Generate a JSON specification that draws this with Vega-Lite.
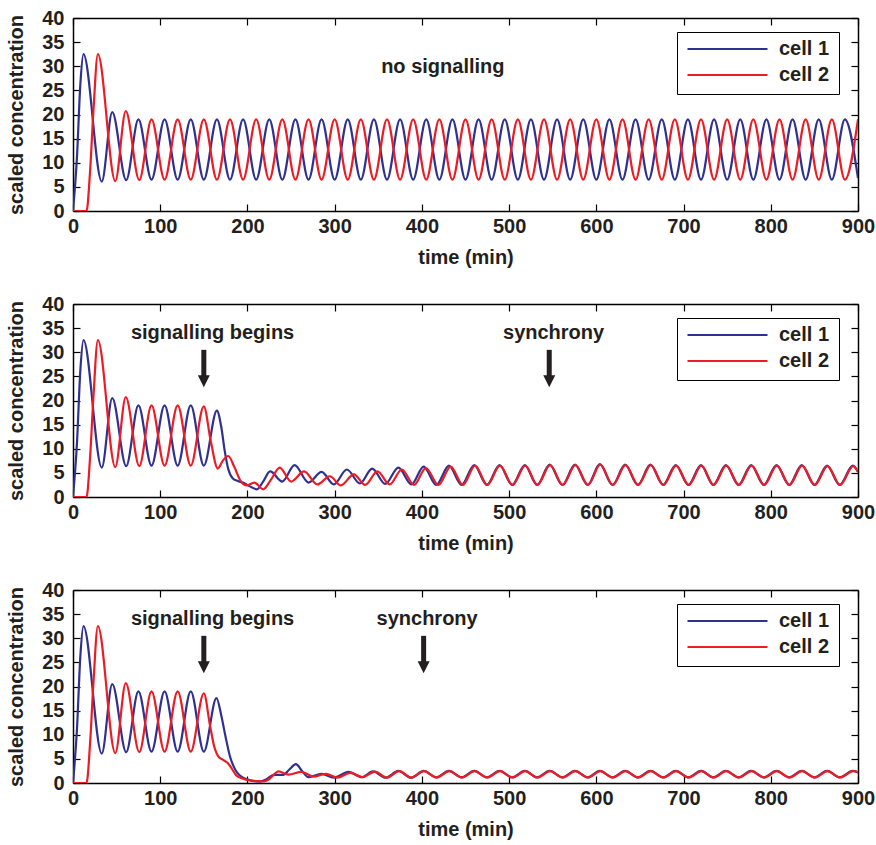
{
"$schema": "https://vega.github.io/schema/vega-lite/v6.json",
"background": "white",
"padding": {"left": 6, "top": 8, "right": 5, "bottom": 5},
"datasets": {
"series": [
{"panel":1,"cell":"cell 1","t":0,"v":0},{"panel":1,"cell":"cell 1","t":4.5,"v":11},{"panel":1,"cell":"cell 1","t":8.5,"v":26.5},{"panel":1,"cell":"cell 1","t":12,"v":32.5},{"panel":1,"cell":"cell 1","t":33,"v":6.1},{"panel":1,"cell":"cell 1","t":45,"v":20.5},{"panel":1,"cell":"cell 1","t":61,"v":6.4},{"panel":1,"cell":"cell 1","t":75,"v":19},{"panel":1,"cell":"cell 1","t":90,"v":6.5},{"panel":1,"cell":"cell 1","t":105,"v":19},{"panel":1,"cell":"cell 1","t":120,"v":6.5},{"panel":1,"cell":"cell 1","t":135,"v":19},{"panel":1,"cell":"cell 1","t":150,"v":6.5},
{"panel":1,"cell":"cell 1","t":165,"v":19},{"panel":1,"cell":"cell 1","t":180,"v":6.5},{"panel":1,"cell":"cell 1","t":195,"v":19},{"panel":1,"cell":"cell 1","t":210,"v":6.5},{"panel":1,"cell":"cell 1","t":225,"v":19},{"panel":1,"cell":"cell 1","t":240,"v":6.5},{"panel":1,"cell":"cell 1","t":255,"v":19},{"panel":1,"cell":"cell 1","t":270,"v":6.5},{"panel":1,"cell":"cell 1","t":285,"v":19},{"panel":1,"cell":"cell 1","t":300,"v":6.5},{"panel":1,"cell":"cell 1","t":315,"v":19},{"panel":1,"cell":"cell 1","t":330,"v":6.5},{"panel":1,"cell":"cell 1","t":345,"v":19},{"panel":1,"cell":"cell 1","t":360,"v":6.5},{"panel":1,"cell":"cell 1","t":375,"v":19},{"panel":1,"cell":"cell 1","t":390,"v":6.5},{"panel":1,"cell":"cell 1","t":405,"v":19},{"panel":1,"cell":"cell 1","t":420,"v":6.5},{"panel":1,"cell":"cell 1","t":435,"v":19},{"panel":1,"cell":"cell 1","t":450,"v":6.5},{"panel":1,"cell":"cell 1","t":465,"v":19},{"panel":1,"cell":"cell 1","t":480,"v":6.5},{"panel":1,"cell":"cell 1","t":495,"v":19},{"panel":1,"cell":"cell 1","t":510,"v":6.5},{"panel":1,"cell":"cell 1","t":525,"v":19},{"panel":1,"cell":"cell 1","t":540,"v":6.5},{"panel":1,"cell":"cell 1","t":555,"v":19},{"panel":1,"cell":"cell 1","t":570,"v":6.5},{"panel":1,"cell":"cell 1","t":585,"v":19},{"panel":1,"cell":"cell 1","t":600,"v":6.5},{"panel":1,"cell":"cell 1","t":615,"v":19},{"panel":1,"cell":"cell 1","t":630,"v":6.5},{"panel":1,"cell":"cell 1","t":645,"v":19},{"panel":1,"cell":"cell 1","t":660,"v":6.5},{"panel":1,"cell":"cell 1","t":675,"v":19},{"panel":1,"cell":"cell 1","t":690,"v":6.5},{"panel":1,"cell":"cell 1","t":705,"v":19},{"panel":1,"cell":"cell 1","t":720,"v":6.5},{"panel":1,"cell":"cell 1","t":735,"v":19},{"panel":1,"cell":"cell 1","t":750,"v":6.5},{"panel":1,"cell":"cell 1","t":765,"v":19},{"panel":1,"cell":"cell 1","t":780,"v":6.5},{"panel":1,"cell":"cell 1","t":795,"v":19},{"panel":1,"cell":"cell 1","t":810,"v":6.5},{"panel":1,"cell":"cell 1","t":825,"v":19},{"panel":1,"cell":"cell 1","t":840,"v":6.5},{"panel":1,"cell":"cell 1","t":855,"v":19},{"panel":1,"cell":"cell 1","t":870,"v":6.5},{"panel":1,"cell":"cell 1","t":885,"v":19},{"panel":1,"cell":"cell 1","t":900,"v":6.8},
{"panel":1,"cell":"cell 2","t":0,"v":0},{"panel":1,"cell":"cell 2","t":15.5,"v":0},{"panel":1,"cell":"cell 2","t":19.5,"v":8},{"panel":1,"cell":"cell 2","t":23.5,"v":21},{"panel":1,"cell":"cell 2","t":28.5,"v":32.5},{"panel":1,"cell":"cell 2","t":48.5,"v":6.2},{"panel":1,"cell":"cell 2","t":60.5,"v":20.7},{"panel":1,"cell":"cell 2","t":76,"v":6.4},{"panel":1,"cell":"cell 2","t":90,"v":19},{"panel":1,"cell":"cell 2","t":105,"v":6.5},{"panel":1,"cell":"cell 2","t":120,"v":19},{"panel":1,"cell":"cell 2","t":135,"v":6.5},
{"panel":1,"cell":"cell 2","t":150,"v":19},{"panel":1,"cell":"cell 2","t":165,"v":6.5},{"panel":1,"cell":"cell 2","t":180,"v":19},{"panel":1,"cell":"cell 2","t":195,"v":6.5},{"panel":1,"cell":"cell 2","t":210,"v":19},{"panel":1,"cell":"cell 2","t":225,"v":6.5},{"panel":1,"cell":"cell 2","t":240,"v":19},{"panel":1,"cell":"cell 2","t":255,"v":6.5},{"panel":1,"cell":"cell 2","t":270,"v":19},{"panel":1,"cell":"cell 2","t":285,"v":6.5},{"panel":1,"cell":"cell 2","t":300,"v":19},{"panel":1,"cell":"cell 2","t":315,"v":6.5},{"panel":1,"cell":"cell 2","t":330,"v":19},{"panel":1,"cell":"cell 2","t":345,"v":6.5},{"panel":1,"cell":"cell 2","t":360,"v":19},{"panel":1,"cell":"cell 2","t":375,"v":6.5},{"panel":1,"cell":"cell 2","t":390,"v":19},{"panel":1,"cell":"cell 2","t":405,"v":6.5},{"panel":1,"cell":"cell 2","t":420,"v":19},{"panel":1,"cell":"cell 2","t":435,"v":6.5},{"panel":1,"cell":"cell 2","t":450,"v":19},{"panel":1,"cell":"cell 2","t":465,"v":6.5},{"panel":1,"cell":"cell 2","t":480,"v":19},{"panel":1,"cell":"cell 2","t":495,"v":6.5},{"panel":1,"cell":"cell 2","t":510,"v":19},{"panel":1,"cell":"cell 2","t":525,"v":6.5},{"panel":1,"cell":"cell 2","t":540,"v":19},{"panel":1,"cell":"cell 2","t":555,"v":6.5},{"panel":1,"cell":"cell 2","t":570,"v":19},{"panel":1,"cell":"cell 2","t":585,"v":6.5},{"panel":1,"cell":"cell 2","t":600,"v":19},{"panel":1,"cell":"cell 2","t":615,"v":6.5},{"panel":1,"cell":"cell 2","t":630,"v":19},{"panel":1,"cell":"cell 2","t":645,"v":6.5},{"panel":1,"cell":"cell 2","t":660,"v":19},{"panel":1,"cell":"cell 2","t":675,"v":6.5},{"panel":1,"cell":"cell 2","t":690,"v":19},{"panel":1,"cell":"cell 2","t":705,"v":6.5},{"panel":1,"cell":"cell 2","t":720,"v":19},{"panel":1,"cell":"cell 2","t":735,"v":6.5},{"panel":1,"cell":"cell 2","t":750,"v":19},{"panel":1,"cell":"cell 2","t":765,"v":6.5},{"panel":1,"cell":"cell 2","t":780,"v":19},{"panel":1,"cell":"cell 2","t":795,"v":6.5},{"panel":1,"cell":"cell 2","t":810,"v":19},{"panel":1,"cell":"cell 2","t":825,"v":6.5},{"panel":1,"cell":"cell 2","t":840,"v":19},{"panel":1,"cell":"cell 2","t":855,"v":6.5},{"panel":1,"cell":"cell 2","t":870,"v":19},{"panel":1,"cell":"cell 2","t":885,"v":6.5},{"panel":1,"cell":"cell 2","t":900,"v":19},

{"panel":2,"cell":"cell 1","t":0,"v":0},{"panel":2,"cell":"cell 1","t":4.5,"v":11},{"panel":2,"cell":"cell 1","t":8.5,"v":26.5},{"panel":2,"cell":"cell 1","t":12,"v":32.5},{"panel":2,"cell":"cell 1","t":33,"v":6.1},{"panel":2,"cell":"cell 1","t":45,"v":20.5},{"panel":2,"cell":"cell 1","t":61,"v":6.4},{"panel":2,"cell":"cell 1","t":75,"v":19},{"panel":2,"cell":"cell 1","t":90,"v":6.5},{"panel":2,"cell":"cell 1","t":105,"v":19},{"panel":2,"cell":"cell 1","t":120,"v":6.5},{"panel":2,"cell":"cell 1","t":135,"v":19},{"panel":2,"cell":"cell 1","t":150,"v":6.5},
{"panel":2,"cell":"cell 1","t":165,"v":17.9},{"panel":2,"cell":"cell 1","t":170,"v":14.5},{"panel":2,"cell":"cell 1","t":174,"v":9.5},{"panel":2,"cell":"cell 1","t":178,"v":5.8},{"panel":2,"cell":"cell 1","t":183,"v":3.9},{"panel":2,"cell":"cell 1","t":189,"v":3.3},{"panel":2,"cell":"cell 1","t":196,"v":2.9},{"panel":2,"cell":"cell 1","t":203,"v":2.2},{"panel":2,"cell":"cell 1","t":211,"v":1.6},{"panel":2,"cell":"cell 1","t":218,"v":3.2},{"panel":2,"cell":"cell 1","t":226,"v":5.3},{"panel":2,"cell":"cell 1","t":240,"v":3.2},{"panel":2,"cell":"cell 1","t":254,"v":6.6},{"panel":2,"cell":"cell 1","t":270,"v":3.0},{"panel":2,"cell":"cell 1","t":285,"v":5.2},{"panel":2,"cell":"cell 1","t":299,"v":2.6},{"panel":2,"cell":"cell 1","t":314,"v":5.7},{"panel":2,"cell":"cell 1","t":329,"v":2.8},{"panel":2,"cell":"cell 1","t":343,"v":5.9},{"panel":2,"cell":"cell 1","t":358,"v":2.7},{"panel":2,"cell":"cell 1","t":373,"v":6.1},{"panel":2,"cell":"cell 1","t":388,"v":2.6},{"panel":2,"cell":"cell 1","t":402,"v":6.3},{"panel":2,"cell":"cell 1","t":416.5,"v":2.5},{"panel":2,"cell":"cell 1","t":431,"v":6.5},{"panel":2,"cell":"cell 1","t":445.5,"v":2.5},{"panel":2,"cell":"cell 1","t":460,"v":6.6},{"panel":2,"cell":"cell 1","t":474.5,"v":2.5},{"panel":2,"cell":"cell 1","t":489,"v":6.6},{"panel":2,"cell":"cell 1","t":503.5,"v":2.5},{"panel":2,"cell":"cell 1","t":518,"v":6.6},{"panel":2,"cell":"cell 1","t":532,"v":2.5},{"panel":2,"cell":"cell 1","t":546.5,"v":6.7},{"panel":2,"cell":"cell 1","t":561,"v":2.5},{"panel":2,"cell":"cell 1","t":575.5,"v":6.7},{"panel":2,"cell":"cell 1","t":590,"v":2.5},{"panel":2,"cell":"cell 1","t":604,"v":6.8},{"panel":2,"cell":"cell 1","t":618.5,"v":2.5},{"panel":2,"cell":"cell 1","t":633,"v":6.7},{"panel":2,"cell":"cell 1","t":647.5,"v":2.5},{"panel":2,"cell":"cell 1","t":662,"v":6.7},{"panel":2,"cell":"cell 1","t":676.5,"v":2.5},{"panel":2,"cell":"cell 1","t":691,"v":6.6},{"panel":2,"cell":"cell 1","t":705.5,"v":2.5},{"panel":2,"cell":"cell 1","t":720,"v":6.6},{"panel":2,"cell":"cell 1","t":734,"v":2.5},{"panel":2,"cell":"cell 1","t":748.5,"v":6.6},{"panel":2,"cell":"cell 1","t":763,"v":2.5},{"panel":2,"cell":"cell 1","t":777.5,"v":6.6},{"panel":2,"cell":"cell 1","t":792,"v":2.5},{"panel":2,"cell":"cell 1","t":806.5,"v":6.6},{"panel":2,"cell":"cell 1","t":821,"v":2.5},{"panel":2,"cell":"cell 1","t":835.5,"v":6.6},{"panel":2,"cell":"cell 1","t":850,"v":2.5},{"panel":2,"cell":"cell 1","t":864.5,"v":6.5},{"panel":2,"cell":"cell 1","t":879,"v":2.5},{"panel":2,"cell":"cell 1","t":894,"v":6.5},{"panel":2,"cell":"cell 1","t":900,"v":5.2},
{"panel":2,"cell":"cell 2","t":0,"v":0},{"panel":2,"cell":"cell 2","t":15.5,"v":0},{"panel":2,"cell":"cell 2","t":19.5,"v":8},{"panel":2,"cell":"cell 2","t":23.5,"v":21},{"panel":2,"cell":"cell 2","t":28.5,"v":32.5},{"panel":2,"cell":"cell 2","t":48.5,"v":6.2},{"panel":2,"cell":"cell 2","t":60.5,"v":20.7},{"panel":2,"cell":"cell 2","t":76,"v":6.4},{"panel":2,"cell":"cell 2","t":90,"v":19},{"panel":2,"cell":"cell 2","t":105,"v":6.5},{"panel":2,"cell":"cell 2","t":120,"v":19},{"panel":2,"cell":"cell 2","t":135,"v":6.5},
{"panel":2,"cell":"cell 2","t":150,"v":18.8},{"panel":2,"cell":"cell 2","t":158,"v":11.5},{"panel":2,"cell":"cell 2","t":166,"v":5.9},{"panel":2,"cell":"cell 2","t":172,"v":7.6},{"panel":2,"cell":"cell 2","t":178,"v":8.5},{"panel":2,"cell":"cell 2","t":185,"v":6.2},{"panel":2,"cell":"cell 2","t":192,"v":3.4},{"panel":2,"cell":"cell 2","t":199,"v":2.4},{"panel":2,"cell":"cell 2","t":208,"v":3.0},{"panel":2,"cell":"cell 2","t":218,"v":1.6},{"panel":2,"cell":"cell 2","t":227,"v":3.6},{"panel":2,"cell":"cell 2","t":237,"v":6.1},{"panel":2,"cell":"cell 2","t":250,"v":3.2},{"panel":2,"cell":"cell 2","t":265,"v":5.3},{"panel":2,"cell":"cell 2","t":280,"v":2.6},{"panel":2,"cell":"cell 2","t":294.5,"v":4.3},{"panel":2,"cell":"cell 2","t":307,"v":2.4},{"panel":2,"cell":"cell 2","t":322,"v":4.7},{"panel":2,"cell":"cell 2","t":335,"v":2.5},{"panel":2,"cell":"cell 2","t":349,"v":5.3},{"panel":2,"cell":"cell 2","t":363,"v":2.6},{"panel":2,"cell":"cell 2","t":377,"v":5.7},{"panel":2,"cell":"cell 2","t":391,"v":2.5},{"panel":2,"cell":"cell 2","t":404.5,"v":6.0},{"panel":2,"cell":"cell 2","t":419,"v":2.5},{"panel":2,"cell":"cell 2","t":433,"v":6.3},{"panel":2,"cell":"cell 2","t":447,"v":2.5},{"panel":2,"cell":"cell 2","t":461,"v":6.5},{"panel":2,"cell":"cell 2","t":475,"v":2.5},{"panel":2,"cell":"cell 2","t":489.5,"v":6.5},{"panel":2,"cell":"cell 2","t":504,"v":2.5},{"panel":2,"cell":"cell 2","t":518.5,"v":6.5},{"panel":2,"cell":"cell 2","t":532.5,"v":2.5},{"panel":2,"cell":"cell 2","t":547,"v":6.6},{"panel":2,"cell":"cell 2","t":561.5,"v":2.5},{"panel":2,"cell":"cell 2","t":576,"v":6.6},{"panel":2,"cell":"cell 2","t":590.5,"v":2.5},{"panel":2,"cell":"cell 2","t":604.5,"v":6.7},{"panel":2,"cell":"cell 2","t":619,"v":2.5},{"panel":2,"cell":"cell 2","t":633.5,"v":6.6},{"panel":2,"cell":"cell 2","t":648,"v":2.5},{"panel":2,"cell":"cell 2","t":662.5,"v":6.6},{"panel":2,"cell":"cell 2","t":677,"v":2.5},{"panel":2,"cell":"cell 2","t":691.5,"v":6.5},{"panel":2,"cell":"cell 2","t":706,"v":2.5},{"panel":2,"cell":"cell 2","t":720.5,"v":6.5},{"panel":2,"cell":"cell 2","t":734.5,"v":2.5},{"panel":2,"cell":"cell 2","t":749,"v":6.5},{"panel":2,"cell":"cell 2","t":763.5,"v":2.5},{"panel":2,"cell":"cell 2","t":778,"v":6.5},{"panel":2,"cell":"cell 2","t":792.5,"v":2.5},{"panel":2,"cell":"cell 2","t":807,"v":6.5},{"panel":2,"cell":"cell 2","t":821.5,"v":2.5},{"panel":2,"cell":"cell 2","t":836,"v":6.5},{"panel":2,"cell":"cell 2","t":850.5,"v":2.5},{"panel":2,"cell":"cell 2","t":865,"v":6.4},{"panel":2,"cell":"cell 2","t":879.5,"v":2.5},{"panel":2,"cell":"cell 2","t":894.5,"v":6.4},{"panel":2,"cell":"cell 2","t":900,"v":5.3},

{"panel":3,"cell":"cell 1","t":0,"v":0},{"panel":3,"cell":"cell 1","t":4.5,"v":11},{"panel":3,"cell":"cell 1","t":8.5,"v":26.5},{"panel":3,"cell":"cell 1","t":12,"v":32.5},{"panel":3,"cell":"cell 1","t":33,"v":6.1},{"panel":3,"cell":"cell 1","t":45,"v":20.5},{"panel":3,"cell":"cell 1","t":61,"v":6.4},{"panel":3,"cell":"cell 1","t":75,"v":19},{"panel":3,"cell":"cell 1","t":90,"v":6.5},{"panel":3,"cell":"cell 1","t":105,"v":19},{"panel":3,"cell":"cell 1","t":120,"v":6.5},{"panel":3,"cell":"cell 1","t":135,"v":19},{"panel":3,"cell":"cell 1","t":150,"v":6.5},
{"panel":3,"cell":"cell 1","t":164.5,"v":17.6},{"panel":3,"cell":"cell 1","t":170,"v":14},{"panel":3,"cell":"cell 1","t":175,"v":9.5},{"panel":3,"cell":"cell 1","t":180,"v":5.5},{"panel":3,"cell":"cell 1","t":184,"v":3.5},{"panel":3,"cell":"cell 1","t":188,"v":2.2},{"panel":3,"cell":"cell 1","t":193,"v":1.3},{"panel":3,"cell":"cell 1","t":199,"v":0.8},{"panel":3,"cell":"cell 1","t":206,"v":0.45},{"panel":3,"cell":"cell 1","t":214,"v":0.3},{"panel":3,"cell":"cell 1","t":222,"v":0.8},{"panel":3,"cell":"cell 1","t":230,"v":1.7},{"panel":3,"cell":"cell 1","t":241,"v":1.7},{"panel":3,"cell":"cell 1","t":248,"v":2.8},{"panel":3,"cell":"cell 1","t":255.5,"v":3.9},{"panel":3,"cell":"cell 1","t":263,"v":2.4},{"panel":3,"cell":"cell 1","t":270,"v":1.2},{"panel":3,"cell":"cell 1","t":285,"v":1.9},{"panel":3,"cell":"cell 1","t":299,"v":1.1},{"panel":3,"cell":"cell 1","t":316,"v":2.3},{"panel":3,"cell":"cell 1","t":331,"v":1.2},{"panel":3,"cell":"cell 1","t":344,"v":2.4},{"panel":3,"cell":"cell 1","t":358.5,"v":1.1},{"panel":3,"cell":"cell 1","t":373,"v":2.5},{"panel":3,"cell":"cell 1","t":387.5,"v":1.1},{"panel":3,"cell":"cell 1","t":402,"v":2.5},{"panel":3,"cell":"cell 1","t":416.5,"v":1.15},{"panel":3,"cell":"cell 1","t":431,"v":2.5},{"panel":3,"cell":"cell 1","t":445.5,"v":1.15},{"panel":3,"cell":"cell 1","t":460,"v":2.5},{"panel":3,"cell":"cell 1","t":474.5,"v":1.15},{"panel":3,"cell":"cell 1","t":489,"v":2.5},{"panel":3,"cell":"cell 1","t":503.5,"v":1.15},{"panel":3,"cell":"cell 1","t":518,"v":2.5},{"panel":3,"cell":"cell 1","t":532,"v":1.15},{"panel":3,"cell":"cell 1","t":546.5,"v":2.5},{"panel":3,"cell":"cell 1","t":561,"v":1.15},{"panel":3,"cell":"cell 1","t":575.5,"v":2.5},{"panel":3,"cell":"cell 1","t":590,"v":1.15},{"panel":3,"cell":"cell 1","t":604,"v":2.5},{"panel":3,"cell":"cell 1","t":618.5,"v":1.15},{"panel":3,"cell":"cell 1","t":633,"v":2.5},{"panel":3,"cell":"cell 1","t":647.5,"v":1.15},{"panel":3,"cell":"cell 1","t":662,"v":2.5},{"panel":3,"cell":"cell 1","t":676.5,"v":1.15},{"panel":3,"cell":"cell 1","t":691,"v":2.5},{"panel":3,"cell":"cell 1","t":705.5,"v":1.15},{"panel":3,"cell":"cell 1","t":720,"v":2.5},{"panel":3,"cell":"cell 1","t":734,"v":1.15},{"panel":3,"cell":"cell 1","t":748.5,"v":2.5},{"panel":3,"cell":"cell 1","t":763,"v":1.15},{"panel":3,"cell":"cell 1","t":777.5,"v":2.5},{"panel":3,"cell":"cell 1","t":792,"v":1.15},{"panel":3,"cell":"cell 1","t":806.5,"v":2.5},{"panel":3,"cell":"cell 1","t":821,"v":1.15},{"panel":3,"cell":"cell 1","t":835.5,"v":2.5},{"panel":3,"cell":"cell 1","t":850,"v":1.15},{"panel":3,"cell":"cell 1","t":864.5,"v":2.5},{"panel":3,"cell":"cell 1","t":879,"v":1.15},{"panel":3,"cell":"cell 1","t":894,"v":2.5},{"panel":3,"cell":"cell 1","t":900,"v":2.2},
{"panel":3,"cell":"cell 2","t":0,"v":0},{"panel":3,"cell":"cell 2","t":15.5,"v":0},{"panel":3,"cell":"cell 2","t":19.5,"v":8},{"panel":3,"cell":"cell 2","t":23.5,"v":21},{"panel":3,"cell":"cell 2","t":28.5,"v":32.5},{"panel":3,"cell":"cell 2","t":48.5,"v":6.2},{"panel":3,"cell":"cell 2","t":60.5,"v":20.7},{"panel":3,"cell":"cell 2","t":76,"v":6.4},{"panel":3,"cell":"cell 2","t":90,"v":19},{"panel":3,"cell":"cell 2","t":105,"v":6.5},{"panel":3,"cell":"cell 2","t":120,"v":19},{"panel":3,"cell":"cell 2","t":135,"v":6.5},
{"panel":3,"cell":"cell 2","t":150,"v":18.6},{"panel":3,"cell":"cell 2","t":157,"v":12},{"panel":3,"cell":"cell 2","t":162,"v":7.5},{"panel":3,"cell":"cell 2","t":167,"v":5.4},{"panel":3,"cell":"cell 2","t":172,"v":4.8},{"panel":3,"cell":"cell 2","t":177,"v":4.2},{"panel":3,"cell":"cell 2","t":182,"v":3.0},{"panel":3,"cell":"cell 2","t":187,"v":1.6},{"panel":3,"cell":"cell 2","t":192,"v":1.1},{"panel":3,"cell":"cell 2","t":198,"v":0.7},{"panel":3,"cell":"cell 2","t":205,"v":0.5},{"panel":3,"cell":"cell 2","t":212,"v":0.4},{"panel":3,"cell":"cell 2","t":219,"v":0.35},{"panel":3,"cell":"cell 2","t":225,"v":0.8},{"panel":3,"cell":"cell 2","t":230,"v":1.7},{"panel":3,"cell":"cell 2","t":235.5,"v":2.4},{"panel":3,"cell":"cell 2","t":247,"v":1.75},{"panel":3,"cell":"cell 2","t":262,"v":2.3},{"panel":3,"cell":"cell 2","t":276,"v":1.3},{"panel":3,"cell":"cell 2","t":290,"v":1.9},{"panel":3,"cell":"cell 2","t":303,"v":1.1},{"panel":3,"cell":"cell 2","t":318,"v":2.1},{"panel":3,"cell":"cell 2","t":332,"v":1.2},{"panel":3,"cell":"cell 2","t":346,"v":2.35},{"panel":3,"cell":"cell 2","t":360,"v":1.1},{"panel":3,"cell":"cell 2","t":374,"v":2.45},{"panel":3,"cell":"cell 2","t":388,"v":1.1},{"panel":3,"cell":"cell 2","t":402.5,"v":2.45},{"panel":3,"cell":"cell 2","t":417,"v":1.15},{"panel":3,"cell":"cell 2","t":431.5,"v":2.45},{"panel":3,"cell":"cell 2","t":446,"v":1.15},{"panel":3,"cell":"cell 2","t":460.5,"v":2.45},{"panel":3,"cell":"cell 2","t":475,"v":1.15},{"panel":3,"cell":"cell 2","t":489.5,"v":2.45},{"panel":3,"cell":"cell 2","t":504,"v":1.15},{"panel":3,"cell":"cell 2","t":518.5,"v":2.45},{"panel":3,"cell":"cell 2","t":532.5,"v":1.15},{"panel":3,"cell":"cell 2","t":547,"v":2.45},{"panel":3,"cell":"cell 2","t":561.5,"v":1.15},{"panel":3,"cell":"cell 2","t":576,"v":2.45},{"panel":3,"cell":"cell 2","t":590.5,"v":1.15},{"panel":3,"cell":"cell 2","t":604.5,"v":2.45},{"panel":3,"cell":"cell 2","t":619,"v":1.15},{"panel":3,"cell":"cell 2","t":633.5,"v":2.45},{"panel":3,"cell":"cell 2","t":648,"v":1.15},{"panel":3,"cell":"cell 2","t":662.5,"v":2.45},{"panel":3,"cell":"cell 2","t":677,"v":1.15},{"panel":3,"cell":"cell 2","t":691.5,"v":2.45},{"panel":3,"cell":"cell 2","t":706,"v":1.15},{"panel":3,"cell":"cell 2","t":720.5,"v":2.45},{"panel":3,"cell":"cell 2","t":734.5,"v":1.15},{"panel":3,"cell":"cell 2","t":749,"v":2.45},{"panel":3,"cell":"cell 2","t":763.5,"v":1.15},{"panel":3,"cell":"cell 2","t":778,"v":2.45},{"panel":3,"cell":"cell 2","t":792.5,"v":1.15},{"panel":3,"cell":"cell 2","t":807,"v":2.45},{"panel":3,"cell":"cell 2","t":821.5,"v":1.15},{"panel":3,"cell":"cell 2","t":836,"v":2.45},{"panel":3,"cell":"cell 2","t":850.5,"v":1.15},{"panel":3,"cell":"cell 2","t":865,"v":2.45},{"panel":3,"cell":"cell 2","t":879.5,"v":1.15},{"panel":3,"cell":"cell 2","t":894.5,"v":2.45},{"panel":3,"cell":"cell 2","t":900,"v":2.25}
],
"notes": [
{"panel":1,"label":"no signalling","t":424,"v":29.8},
{"panel":2,"label":"signalling begins","t":160,"v":34},
{"panel":2,"label":"synchrony","t":551,"v":34},
{"panel":3,"label":"signalling begins","t":160,"v":34},
{"panel":3,"label":"synchrony","t":406,"v":34}
],
"arrows": [
{"panel":2,"t":150,"top":30.5,"base":25,"head":24},
{"panel":2,"t":546,"top":30.5,"base":25,"head":24},
{"panel":3,"t":150,"top":30.5,"base":25,"head":24},
{"panel":3,"t":402,"top":30.5,"base":25,"head":24}
]
},
"bounds": "flush",
"spacing": 93,
"vconcat": [
{
"width": 785, "height": 193,
"resolve": {"axis": {"x": "independent", "y": "independent"}},
"layer": [
{"data": {"name": "series"}, "transform": [{"filter": "datum.panel == 1"}],
 "mark": {"type": "line", "interpolate": "monotone", "strokeWidth": 2.2, "clip": true},
 "encoding": {
  "x": {"field": "t", "type": "quantitative", "scale": {"domain": [0, 900], "nice": false}, "axis": {"values": [0,100,200,300,400,500,600,700,800,900], "title": "time (min)"}},
  "y": {"field": "v", "type": "quantitative", "scale": {"domain": [0, 40], "nice": false}, "axis": {"values": [0,5,10,15,20,25,30,35,40], "title": "scaled concentration"}},
  "color": {"field": "cell", "type": "nominal", "scale": {"domain": ["cell 1", "cell 2"], "range": ["#2E3192", "#ED1C24"]}, "legend": {"orient": "none", "legendX": 604, "legendY": 14, "title": null}}
 }},
{"data": {"name": "notes"}, "transform": [{"filter": "datum.panel == 1"}],
 "mark": {"type": "text", "font": "Liberation Sans", "fontSize": 20, "fontWeight": "bold", "color": "#231F20", "align": "center", "baseline": "middle"},
 "encoding": {"x": {"field": "t", "type": "quantitative", "axis": null}, "y": {"field": "v", "type": "quantitative", "axis": null}, "text": {"field": "label"}}},
{"data": {"name": "notes"}, "transform": [{"filter": "datum.panel == 1"}],
 "mark": {"type": "point", "opacity": 0},
 "encoding": {"x": {"field": "t", "type": "quantitative", "axis": {"orient": "top", "labels": false, "title": null, "values": [0,100,200,300,400,500,600,700,800,900]}}, "y": {"field": "v", "type": "quantitative", "axis": {"orient": "right", "labels": false, "title": null, "values": [0,5,10,15,20,25,30,35,40]}}}}
]
},
{
"width": 785, "height": 193,
"resolve": {"axis": {"x": "independent", "y": "independent"}},
"layer": [
{"data": {"name": "series"}, "transform": [{"filter": "datum.panel == 2"}],
 "mark": {"type": "line", "interpolate": "monotone", "strokeWidth": 2.2, "clip": true},
 "encoding": {
  "x": {"field": "t", "type": "quantitative", "scale": {"domain": [0, 900], "nice": false}, "axis": {"values": [0,100,200,300,400,500,600,700,800,900], "title": "time (min)"}},
  "y": {"field": "v", "type": "quantitative", "scale": {"domain": [0, 40], "nice": false}, "axis": {"values": [0,5,10,15,20,25,30,35,40], "title": "scaled concentration"}},
  "color": {"field": "cell", "type": "nominal", "scale": {"domain": ["cell 1", "cell 2"], "range": ["#2E3192", "#ED1C24"]}, "legend": {"orient": "none", "legendX": 604, "legendY": 14, "title": null}}
 }},
{"data": {"name": "notes"}, "transform": [{"filter": "datum.panel == 2"}],
 "mark": {"type": "text", "font": "Liberation Sans", "fontSize": 20, "fontWeight": "bold", "color": "#231F20", "align": "center", "baseline": "middle"},
 "encoding": {"x": {"field": "t", "type": "quantitative", "axis": null}, "y": {"field": "v", "type": "quantitative", "axis": null}, "text": {"field": "label"}}},
{"data": {"name": "arrows"}, "transform": [{"filter": "datum.panel == 2"}],
 "mark": {"type": "rule", "strokeWidth": 5, "color": "#231F20"},
 "encoding": {"x": {"field": "t", "type": "quantitative", "axis": null}, "y": {"field": "top", "type": "quantitative", "axis": null}, "y2": {"field": "base"}}},
{"data": {"name": "arrows"}, "transform": [{"filter": "datum.panel == 2"}],
 "mark": {"type": "point", "shape": "M-1,-1L1,-1L0,1Z", "filled": true, "opacity": 1, "size": 144, "color": "#231F20", "strokeWidth": 0},
 "encoding": {"x": {"field": "t", "type": "quantitative", "axis": null}, "y": {"field": "head", "type": "quantitative", "axis": null}}},
{"data": {"name": "notes"}, "transform": [{"filter": "datum.panel == 2"}],
 "mark": {"type": "point", "opacity": 0},
 "encoding": {"x": {"field": "t", "type": "quantitative", "axis": {"orient": "top", "labels": false, "title": null, "values": [0,100,200,300,400,500,600,700,800,900]}}, "y": {"field": "v", "type": "quantitative", "axis": {"orient": "right", "labels": false, "title": null, "values": [0,5,10,15,20,25,30,35,40]}}}}
]
},
{
"width": 785, "height": 193,
"resolve": {"axis": {"x": "independent", "y": "independent"}},
"layer": [
{"data": {"name": "series"}, "transform": [{"filter": "datum.panel == 3"}],
 "mark": {"type": "line", "interpolate": "monotone", "strokeWidth": 2.2, "clip": true},
 "encoding": {
  "x": {"field": "t", "type": "quantitative", "scale": {"domain": [0, 900], "nice": false}, "axis": {"values": [0,100,200,300,400,500,600,700,800,900], "title": "time (min)"}},
  "y": {"field": "v", "type": "quantitative", "scale": {"domain": [0, 40], "nice": false}, "axis": {"values": [0,5,10,15,20,25,30,35,40], "title": "scaled concentration"}},
  "color": {"field": "cell", "type": "nominal", "scale": {"domain": ["cell 1", "cell 2"], "range": ["#2E3192", "#ED1C24"]}, "legend": {"orient": "none", "legendX": 604, "legendY": 14, "title": null}}
 }},
{"data": {"name": "notes"}, "transform": [{"filter": "datum.panel == 3"}],
 "mark": {"type": "text", "font": "Liberation Sans", "fontSize": 20, "fontWeight": "bold", "color": "#231F20", "align": "center", "baseline": "middle"},
 "encoding": {"x": {"field": "t", "type": "quantitative", "axis": null}, "y": {"field": "v", "type": "quantitative", "axis": null}, "text": {"field": "label"}}},
{"data": {"name": "arrows"}, "transform": [{"filter": "datum.panel == 3"}],
 "mark": {"type": "rule", "strokeWidth": 5, "color": "#231F20"},
 "encoding": {"x": {"field": "t", "type": "quantitative", "axis": null}, "y": {"field": "top", "type": "quantitative", "axis": null}, "y2": {"field": "base"}}},
{"data": {"name": "arrows"}, "transform": [{"filter": "datum.panel == 3"}],
 "mark": {"type": "point", "shape": "M-1,-1L1,-1L0,1Z", "filled": true, "opacity": 1, "size": 144, "color": "#231F20", "strokeWidth": 0},
 "encoding": {"x": {"field": "t", "type": "quantitative", "axis": null}, "y": {"field": "head", "type": "quantitative", "axis": null}}},
{"data": {"name": "notes"}, "transform": [{"filter": "datum.panel == 3"}],
 "mark": {"type": "point", "opacity": 0},
 "encoding": {"x": {"field": "t", "type": "quantitative", "axis": {"orient": "top", "labels": false, "title": null, "values": [0,100,200,300,400,500,600,700,800,900]}}, "y": {"field": "v", "type": "quantitative", "axis": {"orient": "right", "labels": false, "title": null, "values": [0,5,10,15,20,25,30,35,40]}}}}
]
}
],
"resolve": {"scale": {"color": "independent"}, "legend": {"color": "independent"}},
"config": {
 "font": "Liberation Sans",
 "view": {"stroke": null},
 "axis": {"labelFont": "Liberation Sans", "labelFontSize": 20, "labelFontWeight": "bold", "labelColor": "#231F20", "titleFont": "Liberation Sans", "titleFontSize": 20, "titleFontWeight": "bold", "titleColor": "#231F20", "domainColor": "#000000", "domainWidth": 1.5, "tickColor": "#000000", "tickWidth": 1.2, "tickSize": -7, "labelPadding": 12, "grid": false, "labelFlush": false, "labelOverlap": false},
 "axisX": {"titlePadding": 11},
 "axisY": {"titlePadding": 15, "labelPadding": 16},
 "legend": {"symbolType": "stroke", "symbolSize": 6400, "symbolStrokeWidth": 2.2, "clipHeight": 16, "rowPadding": 6, "labelOffset": 10, "padding": 9, "strokeColor": "#000000", "fillColor": "#ffffff", "labelFont": "Liberation Sans", "labelFontSize": 20, "labelFontWeight": "bold", "labelColor": "#231F20"}
}
}
